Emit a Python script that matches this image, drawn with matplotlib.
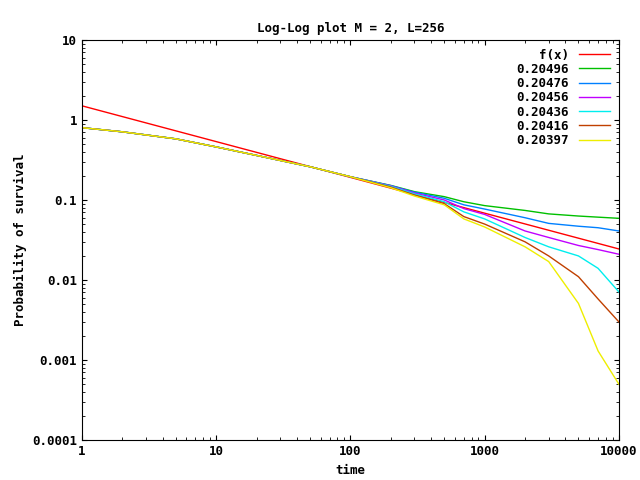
import matplotlib
matplotlib.use("Agg")
import matplotlib.pyplot as plt
import numpy as np

x = [1, 2, 5, 10, 20, 50, 100, 200, 300, 500, 700, 1000, 2000, 3000, 5000, 7000, 10000]
f_amp, f_exp = 1.5, -0.447
labels = ["0.20496", "0.20476", "0.20456", "0.20436", "0.20416", "0.20397"]
colors = ["#00c000", "#0080ff", "#c000ff", "#00eeee", "#c04000", "#eeee00"]
early = [0.80, 0.71, 0.58, 0.46, 0.36, 0.26, 0.195]
series = [
    early + [0.152, 0.127, 0.110, 0.095, 0.085, 0.074, 0.067, 0.063, 0.061, 0.059],
    early + [0.151, 0.125, 0.105, 0.087, 0.077, 0.060, 0.051, 0.047, 0.045, 0.041],
    early + [0.150, 0.122, 0.100, 0.078, 0.066, 0.041, 0.034, 0.027, 0.024, 0.021],
    early + [0.148, 0.119, 0.095, 0.071, 0.058, 0.034, 0.026, 0.020, 0.014, 0.0071],
    early + [0.145, 0.115, 0.090, 0.062, 0.050, 0.030, 0.020, 0.011, 0.0058, 0.0030],
    early + [0.142, 0.112, 0.087, 0.058, 0.046, 0.026, 0.017, 0.0051, 0.0013, 0.0005],
]

plt.rcParams['font.family'] = ['DejaVu Sans Mono']
fig, ax = plt.subplots(figsize=(6.4, 4.8), dpi=100)
fig.subplots_adjust(left=0.128, right=0.967, top=0.917, bottom=0.083)
xs = np.logspace(0, 4, 200)
ax.plot(xs, f_amp * xs ** f_exp, color="red", lw=1, label="f(x)")
for lab, c, s in zip(labels, colors, series):
    ax.plot(x, s, color=c, lw=1, label=lab)
ax.set_xscale("log"); ax.set_yscale("log")
ax.set_xlim(1, 10000); ax.set_ylim(1e-4, 10)
ax.set_xticks([1, 10, 100, 1000, 10000]); ax.set_xticklabels(["1", "10", "100", "1000", "10000"], fontweight="bold", fontsize=9)
ax.set_yticks([1e-4, 1e-3, 1e-2, 0.1, 1, 10]); ax.set_yticklabels(["0.0001", "0.001", "0.01", "0.1", "1", "10"], fontweight="bold", fontsize=9)
ax.tick_params(which="both", direction="in", top=True, right=True)
ax.grid(False)
ax.set_xlabel("time", fontweight="bold", fontsize=9)
ax.set_ylabel("Probability of survival", fontweight="bold", fontsize=9)
ax.set_title("Log-Log plot M = 2, L=256", fontweight="bold", fontsize=9)
leg = ax.legend(loc="upper right", frameon=False, markerfirst=False, prop={"weight": "bold", "size": 9},
                handlelength=2.5, labelspacing=0.1, borderaxespad=0.3)
for t in leg.get_texts():
    t.set_ha("right")
fig.savefig("out.png")
